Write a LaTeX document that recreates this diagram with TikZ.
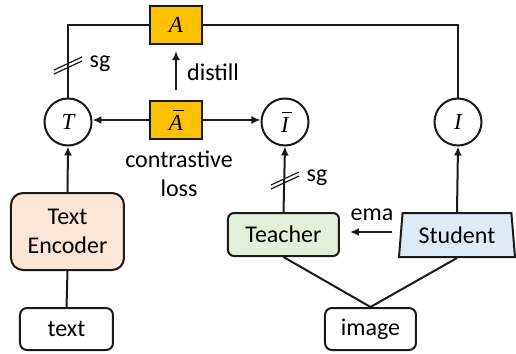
\documentclass[tikz,border=0pt]{standalone}
\usepackage{fontspec}
\setmainfont{Carlito}
\newfontfamily\mathletter{Liberation Serif}
\newcommand{\ml}[1]{{\mathletter\itshape #1}}
\newcommand{\mlbar}[3]{\leavevmode\hbox{\rlap{\kern#2\raise 9.6pt\hbox{\rule{#3}{0.55pt}}}\ml{#1}}}
\usetikzlibrary{arrows.meta,shapes.geometric}
\definecolor{gold}{HTML}{FFC000}
\definecolor{peach}{HTML}{FBE5D6}
\definecolor{lgreen}{HTML}{E2F0D9}
\definecolor{lblue}{HTML}{DEEBF7}
\definecolor{ink}{HTML}{1A1A1A}
\tikzset{
  base/.style={draw=ink, line width=1pt, inner sep=0pt, align=center},
  goldbox/.style={base, fill=gold, minimum width=26pt, minimum height=19pt, font=\fontsize{11.5}{13}\selectfont},
  mcirc/.style={base, circle, minimum size=23.5pt, font=\fontsize{11.5}{13}\selectfont},
  inbox/.style={base, rounded corners=3.5pt, minimum height=21pt},
  conn/.style={draw=ink, line width=1pt},
  arr/.style={conn, -{Latex[length=4.5pt,width=4pt]}},
  slash/.style={draw=ink, line width=0.6pt},
  lbl/.style={inner sep=0pt, align=center}
}
\begin{document}
\begin{tikzpicture}[x=0.5pt,y=-0.5pt, font=\fontsize{12}{14.5}\selectfont]
\useasboundingbox (0,0) rectangle (516,354);
% nodes
\node[goldbox] (A) at (176,25) {\ml{A}};
\node[goldbox] (Ab) at (176,120) {\mlbar{A}{2.2pt}{5.5pt}};
\node[mcirc] (T) at (68,122) {\ml{T}};
\node[mcirc] (Ib) at (285,122) {\mlbar{I}{0.6pt}{4.6pt}};
\node[mcirc] (I) at (458,122) {\ml{I}};
\node[base, fill=peach, rounded corners=6pt, minimum width=56.5pt, minimum height=38.5pt] (enc) at (67.5,231.5) {Text\\Encoder};
\node[inbox, minimum width=46.5pt] (text) at (66.5,329) {text};
\node[inbox, minimum width=45.5pt] (image) at (370.5,329) {image};
\node[inbox, fill=lgreen, rounded corners=3pt, minimum width=55.5pt, minimum height=21.5pt] (teacher) at (283.5,234.5) {Teacher};
\node[base, fill=lblue, trapezium, trapezium left angle=78, trapezium right angle=78, trapezium stretches body, minimum width=58pt, minimum height=22pt] (student) at (457,235) {Student};
% labels
\node[lbl] (distill) at (213,72) {distill};
\node[lbl] (closs) at (179,174) {contrastive\\loss};
\node[lbl] (ema) at (372,215) {ema};
\node[lbl] (sg1) at (100,64) {sg};
\node[lbl] (sg2) at (317,178) {sg};
% connectors
\draw[conn] (T.north) |- (A.west);
\draw[conn] (A.east) -| (I.north);
\draw[arr, shorten <=5pt, shorten >=3pt] (Ab.north) -- (A.south);
\draw[arr] (Ab.west) -- (T.east |- Ab.west);
\draw[arr] (Ab.east) -- (Ib.west |- Ab.east);
\draw[arr] (enc.north) -- (T.south);
\draw[conn] (text.north) -- (enc.south);
\draw[arr] (teacher.north) -- (Ib.south);
\draw[arr] (student.north) -- (I.south);
\draw[arr, shorten <=4pt, shorten >=5pt] (student.west |- 0,232) -- (teacher.east |- 0,232);
\draw[conn] (teacher.south) -- (image.north);
\draw[conn] (student.south) -- (image.north);
% stop-gradient marks
\coordinate (s1) at (68,66);
\coordinate (s2) at (285,181);
\foreach \c in {s1,s2}{
  \draw[slash] ([shift={(-14,8)}]\c) -- ([shift={(14,-5)}]\c);
  \draw[slash] ([shift={(-14,4)}]\c) -- ([shift={(14,-9)}]\c);
}
\end{tikzpicture}
\end{document}
